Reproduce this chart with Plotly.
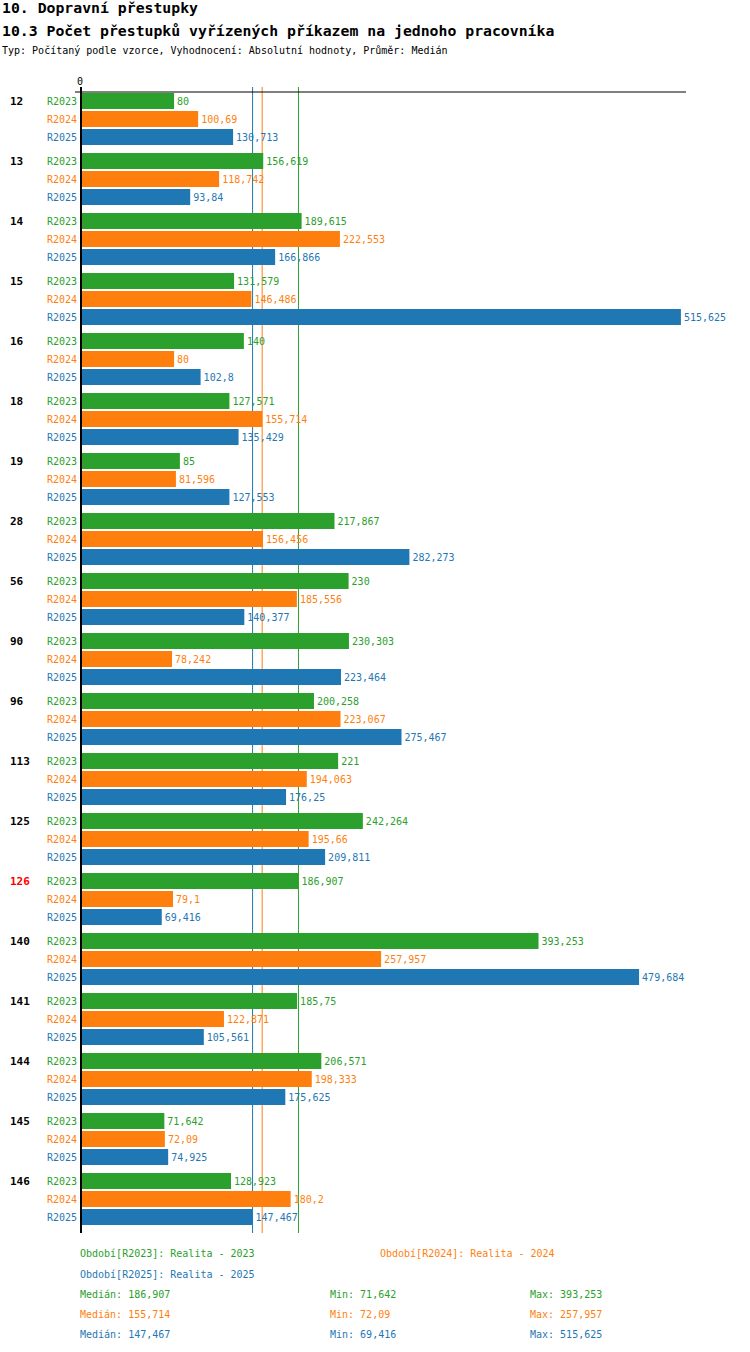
import numpy as np
import plotly.graph_objects as go

# --- data ---
groups = ["12", "13", "14", "15", "16", "18", "19", "28", "56", "90",
          "96", "113", "125", "126", "140", "141", "144", "145", "146"]
highlight = "126"
series = ["R2023", "R2024", "R2025"]
periods = ["Realita - 2023", "Realita - 2024", "Realita - 2025"]
r2023 = [80, 156.619, 189.615, 131.579, 140, 127.571, 85, 217.867, 230, 230.303,
         200.258, 221, 242.264, 186.907, 393.253, 185.75, 206.571, 71.642, 128.923]
r2024 = [100.69, 118.742, 222.553, 146.486, 80, 155.714, 81.596, 156.456, 185.556, 78.242,
         223.067, 194.063, 195.66, 79.1, 257.957, 122.871, 198.333, 72.09, 180.2]
r2025 = [130.713, 93.84, 166.866, 515.625, 102.8, 135.429, 127.553, 282.273, 140.377, 223.464,
         275.467, 176.25, 209.811, 69.416, 479.684, 105.561, 175.625, 74.925, 147.467]
values = [r2023, r2024, r2025]
colors = ["#2ca02c", "#ff7f0e", "#1f77b4"]

FONT = "DejaVu Sans Mono"
W, H = 750, 1352
L, R, T, B = 81, 64, 92, 119
PW, PH = W - L - R, H - T - B   # 605 x 1141, 1 y unit = 1 px
GROUP, STEP, BARH = 60, 18, 16


def fmt(v):
    return f"{v:g}".replace(".", ",")


def px_x(p):
    return (p - L) / PW


def px_y(p):
    return (T + PH - p) / PH


fig = go.Figure()
for s, (name, vals, col) in enumerate(zip(series, values, colors)):
    ypos = [9 + GROUP * g + STEP * s for g in range(len(groups))]
    fig.add_trace(go.Bar(
        x=vals, y=ypos, orientation="h", name=name, width=BARH,
        marker=dict(color=col, line=dict(width=0)),
        text=[fmt(v) for v in vals], textposition="outside",
        textfont=dict(family=FONT, size=10, color=col),
        constraintext="none", cliponaxis=False,
        hovertemplate=name + ": %{x}<extra></extra>"))

ann = []
for g, grp in enumerate(groups):
    y0 = 9 + GROUP * g
    ann.append(dict(x=px_x(8), y=y0, xref="paper", yref="y", text="<b>%s</b>" % grp,
                    xanchor="left", yanchor="middle", showarrow=False,
                    font=dict(family=FONT, size=11, color="red" if grp == highlight else "black")))
    for s, (name, col) in enumerate(zip(series, colors)):
        ann.append(dict(x=0, y=y0 + STEP * s, xref="paper", yref="y", text=name,
                        xanchor="right", yanchor="middle", showarrow=False, xshift=-2,
                        font=dict(family=FONT, size=10, color=col)))

# "0" at the top of the value axis
ann.append(dict(x=0, y=px_y(81), xref="x", yref="paper", text="0", xanchor="center",
                yanchor="middle", showarrow=False, xshift=-1,
                font=dict(family=FONT, size=10, color="black")))

# titles
ann.append(dict(x=px_x(0), y=px_y(8), xref="paper", yref="paper", text="<b>10. Dopravní přestupky</b>",
                xanchor="left", yanchor="middle", showarrow=False, font=dict(family=FONT, size=14.8, color="black")))
ann.append(dict(x=px_x(0), y=px_y(30), xref="paper", yref="paper",
                text="<b>10.3 Počet přestupků vyřízených příkazem na jednoho pracovníka</b>",
                xanchor="left", yanchor="middle", showarrow=False, font=dict(family=FONT, size=14.8, color="black")))
ann.append(dict(x=px_x(0), y=px_y(51), xref="paper", yref="paper",
                text="Typ: Počítaný podle vzorce, Vyhodnocení: Absolutní hodnoty, Průměr: Medián",
                xanchor="left", yanchor="middle", showarrow=False, font=dict(family=FONT, size=10, color="black")))

# legend block
leg_pos = [(78, 1254), (378, 1254), (78, 1274)]
for (lx, ly), name, per, col in zip(leg_pos, series, periods, colors):
    ann.append(dict(x=px_x(lx), y=px_y(ly), xref="paper", yref="paper",
                    text="Období[%s]: %s" % (name, per), xanchor="left", yanchor="middle",
                    showarrow=False, font=dict(family=FONT, size=10, color=col)))
shapes = []
for s, (vals, col) in enumerate(zip(values, colors)):
    ly = 1294 + 20 * s
    med, mn, mx = np.median(vals), min(vals), max(vals)
    for lx, lab in ((78, "Medián: " + fmt(med)), (328, "Min: " + fmt(mn)), (528, "Max: " + fmt(mx))):
        ann.append(dict(x=px_x(lx), y=px_y(ly), xref="paper", yref="paper", text=lab,
                        xanchor="left", yanchor="middle", showarrow=False,
                        font=dict(family=FONT, size=10, color=col)))
    shapes.append(dict(type="line", xref="x", yref="paper", x0=med, x1=med,
                       y0=0, y1=px_y(87), layer="below", line=dict(color=col, width=1)))

# axis lines
shapes.append(dict(type="line", xref="paper", yref="paper", x0=px_x(75), x1=1, y0=1, y1=1,
                   line=dict(color="black", width=1)))
shapes.append(dict(type="line", xref="paper", yref="paper", x0=0, x1=0, y0=0, y1=px_y(87),
                   line=dict(color="black", width=2)))

fig.update_layout(
    width=W, height=H, margin=dict(l=L, r=R, t=T, b=B, pad=0),
    plot_bgcolor="white", paper_bgcolor="white", showlegend=False,
    barmode="overlay", annotations=ann, shapes=shapes,
    font=dict(family=FONT, size=10, color="black"),
    xaxis=dict(range=[0, 520], showticklabels=False, ticks="",
               showgrid=False, zeroline=False, showline=False, fixedrange=True),
    yaxis=dict(range=[PH, 0], showticklabels=False, ticks="", showgrid=False,
               zeroline=False, showline=False, fixedrange=True),
)

fig.write_html("out.html", config={"displayModeBar": False},
               post_script="document.body.style.margin='0px';")
